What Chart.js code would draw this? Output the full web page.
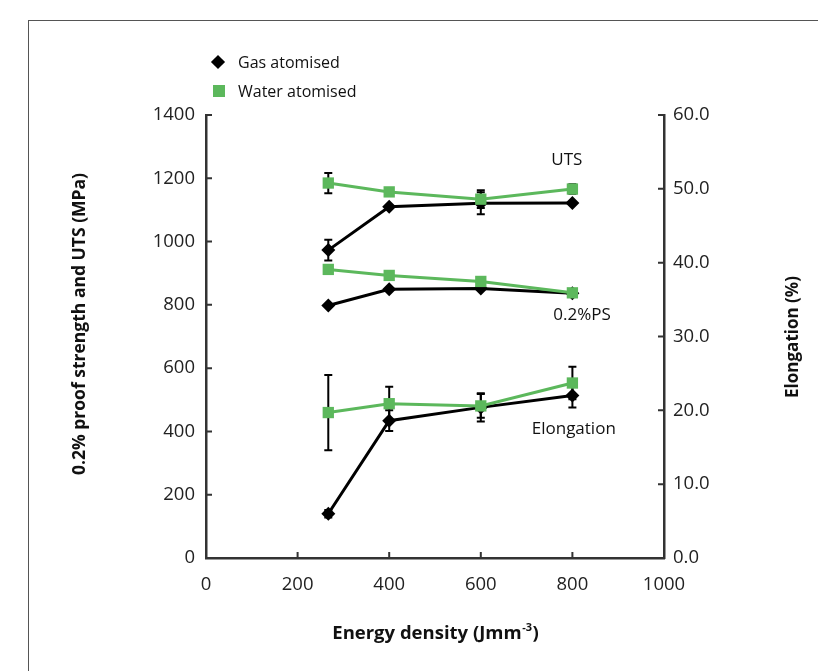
<!DOCTYPE html>
<html><head><meta charset="utf-8">
<script src="https://cdn.jsdelivr.net/npm/chart.js@4"></script>
<style>
html,body{margin:0;padding:0;background:#fff;}
#wrap{position:relative;width:818px;height:671px;overflow:hidden;background:#fff;}
#frame{position:absolute;left:28px;top:20px;width:820px;height:700px;border-left:1.5px solid #555;border-top:1.5px solid #555;}
#c{position:absolute;left:0;top:0;}
.legtxt{position:absolute;font-family:'Open Sans';font-size:16px;color:#111;line-height:20px;white-space:nowrap;}
.dia{position:absolute;width:10px;height:10px;background:#000;transform:rotate(45deg);}
.sq{position:absolute;width:12px;height:12px;background:#5cb85c;}
</style></head>
<body>
<div id="wrap">
<div id="frame"></div>
<canvas id="c" width="818" height="671"></canvas>
<div class="dia" style="left:213px;top:57px;"></div>
<div class="legtxt" style="left:238px;top:52px;">Gas atomised</div>
<div class="sq" style="left:213px;top:85px;"></div>
<div class="legtxt" style="left:238px;top:81px;">Water atomised</div>
</div>
<script>
// ---- data ----
const energy = [267, 400, 600, 800];
const gasUTS = [973, 1110, 1121, 1122];
const gasUTSErr = [33, 0, 35, 0];
const waterUTS = [1185, 1157, 1134, 1166];
const waterUTSErr = [32, 0, 28, 15];
const gasPS = [798, 849, 852, 837];
const gasPSErr = [0, 0, 0, 0];
const waterPS = [912, 893, 874, 838];
const waterPSErr = [0, 0, 0, 0];
const gasElong = [6.0, 18.6, 20.4, 22.0];
const gasElongErr = [0.5, 1.4, 1.9, 1.6];
const waterElong = [19.7, 20.9, 20.6, 23.7];
const waterElongErr = [5.1, 2.3, 1.6, 2.2];
const xTickValues = [0, 200, 400, 600, 800, 1000];
const leftTickValues = [0, 200, 400, 600, 800, 1000, 1200, 1400];
const rightTickValues = [0, 10, 20, 30, 40, 50, 60];
const seriesNames = ['Gas atomised', 'Water atomised'];
const annotTexts = ['UTS', '0.2%PS', 'Elongation'];
const annotX = [788, 821, 803];
const annotY = [1258, 768, 408];
const leftTitle = '0.2% proof strength and UTS (MPa)';
const rightTitle = 'Elongation (%)';

const GREEN = '#5cb85c';
const BLACK = '#000000';

function pts(vals) { return energy.map((e, i) => ({x: e, y: vals[i]})); }
function ds(label, vals, errs, color, axis, isGas) {
  return {
    label: label, data: pts(vals), errors: errs, yAxisID: axis,
    borderColor: color, backgroundColor: color, borderWidth: 3,
    pointStyle: isGas ? 'rectRot' : 'rect',
    pointRadius: isGas ? 7 : 8, pointBorderWidth: 0,
    pointBackgroundColor: color, tension: 0, order: isGas ? 1 : 0
  };
}

const datasets = [
  ds(seriesNames[0], gasUTS, gasUTSErr, BLACK, 'y', true),
  ds(seriesNames[0], gasPS, gasPSErr, BLACK, 'y', true),
  ds(seriesNames[0], gasElong, gasElongErr, BLACK, 'y2', true),
  ds(seriesNames[1], waterUTS, waterUTSErr, GREEN, 'y', false),
  ds(seriesNames[1], waterPS, waterPSErr, GREEN, 'y', false),
  ds(seriesNames[1], waterElong, waterElongErr, GREEN, 'y2', false)
];

const TICK_FONT = {family: 'Open Sans', size: 18.5};

const extras = {
  id: 'extras',
  beforeDatasetsDraw(chart) {
    const ctx = chart.ctx;
    const xs = chart.scales.x;
    ctx.save();
    ctx.strokeStyle = '#000';
    ctx.lineWidth = 2;
    chart.data.datasets.forEach(d => {
      const ys = chart.scales[d.yAxisID];
      d.data.forEach((p, i) => {
        const e = d.errors[i];
        if (!e) return;
        const px = xs.getPixelForValue(p.x);
        const y1 = ys.getPixelForValue(p.y + e);
        const y2 = ys.getPixelForValue(p.y - e);
        ctx.beginPath();
        ctx.moveTo(px, y1); ctx.lineTo(px, y2);
        ctx.moveTo(px - 4, y1); ctx.lineTo(px + 4, y1);
        ctx.moveTo(px - 4, y2); ctx.lineTo(px + 4, y2);
        ctx.stroke();
      });
    });
    ctx.restore();
  },
  afterDraw(chart) {
    const ctx = chart.ctx;
    const {x: xs, y: ys, y2: ys2} = chart.scales;
    const a = chart.chartArea;
    ctx.save();
    // inward tick marks
    ctx.strokeStyle = '#333';
    ctx.lineWidth = 2;
    ctx.beginPath();
    xTickValues.forEach(v => { const p = xs.getPixelForValue(v); ctx.moveTo(p, a.bottom); ctx.lineTo(p, a.bottom - 6); });
    leftTickValues.forEach(v => { const p = ys.getPixelForValue(v); ctx.moveTo(a.left, p); ctx.lineTo(a.left + 6, p); });
    rightTickValues.forEach(v => { const p = ys2.getPixelForValue(v); ctx.moveTo(a.right, p); ctx.lineTo(a.right - 6, p); });
    ctx.stroke();
    // annotations
    ctx.fillStyle = '#111';
    ctx.font = '17px "Open Sans"';
    ctx.textAlign = 'center';
    ctx.textBaseline = 'middle';
    annotTexts.forEach((t, i) => {
      ctx.fillText(t, xs.getPixelForValue(annotX[i]), ys.getPixelForValue(annotY[i]));
    });
    // axis titles (rotated, bottom-to-top)
    [[80, 324, leftTitle, 'bold 17.5px "Open Sans"'], [793, 337, rightTitle, 'bold 17px "Open Sans"']].forEach(([cx, cy, t, f]) => {
      ctx.save();
      ctx.font = f;
      ctx.translate(cx, cy);
      ctx.rotate(-Math.PI / 2);
      ctx.fillText(t, 0, 0);
      ctx.restore();
    });
    // x-axis title with superscript
    const main = 'Energy density (Jmm';
    const sup = '-3';
    const tail = ')';
    const big = 'bold 18.5px "Open Sans"';
    const small = 'bold 11px "Open Sans"';
    ctx.font = big;
    const w1 = ctx.measureText(main).width;
    const w3 = ctx.measureText(tail).width;
    ctx.font = small;
    const w2 = ctx.measureText(sup).width;
    const total = w1 + w2 + w3;
    let sx = (a.left + a.right) / 2 - total / 2;
    const base = 639;
    ctx.textAlign = 'left';
    ctx.textBaseline = 'alphabetic';
    ctx.font = big;
    ctx.fillText(main, sx, base);
    ctx.font = small;
    ctx.fillText(sup, sx + w1 + 0.5, base - 8);
    ctx.font = big;
    ctx.fillText(tail, sx + w1 + w2 + 1, base);
    ctx.restore();
  }
};

new Chart(document.getElementById('c'), {
  type: 'line',
  data: {datasets: datasets},
  options: {
    responsive: false, animation: false,
    layout: {padding: {left: 70, right: 15, top: 115, bottom: 29}},
    plugins: {legend: {display: false}, tooltip: {enabled: false}},
    scales: {
      x: {
        type: 'linear', min: 0, max: 1000,
        afterBuildTicks: s => { s.ticks = xTickValues.map(v => ({value: v})); },
        ticks: {font: TICK_FONT, color: '#222', padding: 16, maxRotation: 0, callback: v => String(v)},
        grid: {display: false, drawTicks: false},
        border: {display: true, color: '#333', width: 2.5},
        afterFit: s => { s.height = 84; }
      },
      y: {
        position: 'left', min: 0, max: 1400,
        afterBuildTicks: s => { s.ticks = leftTickValues.map(v => ({value: v})); },
        ticks: {font: TICK_FONT, color: '#222', padding: 11, callback: v => String(v)},
        grid: {display: false, drawTicks: false},
        border: {display: true, color: '#333', width: 2.5},
        afterFit: s => { s.width = 136; }
      },
      y2: {
        position: 'right', min: 0, max: 60,
        afterBuildTicks: s => { s.ticks = rightTickValues.map(v => ({value: v})); },
        ticks: {font: TICK_FONT, color: '#222', padding: 9, callback: v => Number(v).toFixed(1)},
        grid: {display: false, drawTicks: false},
        border: {display: true, color: '#333', width: 2.5},
        afterFit: s => { s.width = 139; }
      }
    }
  },
  plugins: [extras]
});
</script>
</body></html>
